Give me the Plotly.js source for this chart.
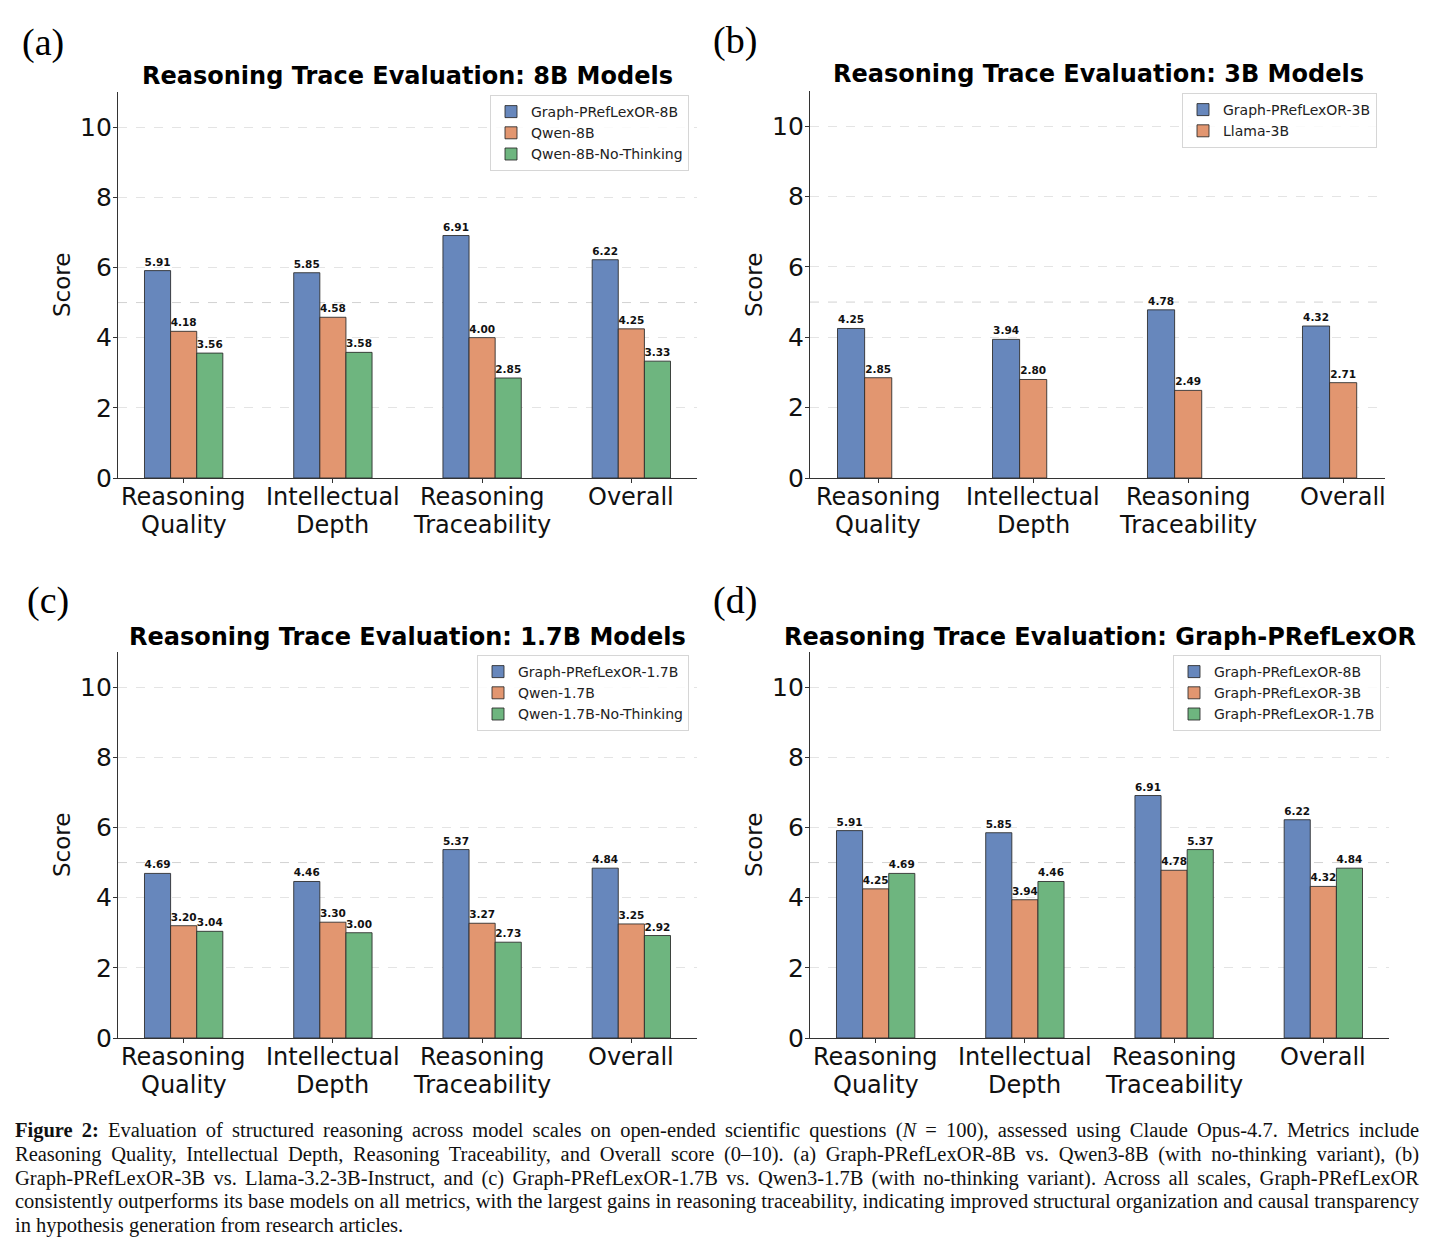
<!DOCTYPE html>
<html><head><meta charset="utf-8">
<script src="https://cdn.plot.ly/plotly-3.0.1.min.js"></script>
<style>
body{margin:0;background:#fff;}
#wrap{position:relative;width:1436px;height:1254px;overflow:hidden;}
#chart{position:absolute;left:0;top:0;width:1436px;height:1254px;}
#caption{position:absolute;left:15px;top:1119px;width:1404px;font-family:"Liberation Serif","Times New Roman",serif;font-size:20.6px;line-height:23.75px;color:#111;}
#caption div{text-align:justify;text-align-last:justify;}
#caption div.last{text-align-last:left;}
</style></head>
<body>
<div id="wrap">
<div id="chart"></div>
<div id="caption">
<div><b>Figure 2:</b> Evaluation of structured reasoning across model scales on open-ended scientific questions (<i>N</i> = 100), assessed using Claude Opus-4.7. Metrics include</div>
<div>Reasoning Quality, Intellectual Depth, Reasoning Traceability, and Overall score (0–10). (a) Graph-PRefLexOR-8B vs. Qwen3-8B (with no-thinking variant), (b)</div>
<div>Graph-PRefLexOR-3B vs. Llama-3.2-3B-Instruct, and (c) Graph-PRefLexOR-1.7B vs. Qwen3-1.7B (with no-thinking variant). Across all scales, Graph-PRefLexOR</div>
<div>consistently outperforms its base models on all metrics, with the largest gains in reasoning traceability, indicating improved structural organization and causal transparency</div>
<div class="last">in hypothesis generation from research articles.</div>
</div>
</div>
<script>
// ---------------- DATA ----------------
const categories = ['Reasoning<br>Quality', 'Intellectual<br>Depth', 'Reasoning<br>Traceability', 'Overall'];

const titleA = 'Reasoning Trace Evaluation: 8B Models';
const namesA = ['Graph-PRefLexOR-8B', 'Qwen-8B', 'Qwen-8B-No-Thinking'];
const graph8B   = [5.91, 5.85, 6.91, 6.22];
const qwen8B    = [4.18, 4.58, 4.00, 4.25];
const qwen8BNT  = [3.56, 3.58, 2.85, 3.33];

const titleB = 'Reasoning Trace Evaluation: 3B Models';
const namesB = ['Graph-PRefLexOR-3B', 'Llama-3B'];
const graph3B   = [4.25, 3.94, 4.78, 4.32];
const llama3B   = [2.85, 2.80, 2.49, 2.71];

const titleC = 'Reasoning Trace Evaluation: 1.7B Models';
const namesC = ['Graph-PRefLexOR-1.7B', 'Qwen-1.7B', 'Qwen-1.7B-No-Thinking'];
const graph17B  = [4.69, 4.46, 5.37, 4.84];
const qwen17B   = [3.20, 3.30, 3.27, 3.25];
const qwen17BNT = [3.04, 3.00, 2.73, 2.92];

const titleD = 'Reasoning Trace Evaluation: Graph-PRefLexOR';
const namesD = ['Graph-PRefLexOR-8B', 'Graph-PRefLexOR-3B', 'Graph-PRefLexOR-1.7B'];
const graphD8B  = [5.91, 5.85, 6.91, 6.22];
const graphD3B  = [4.25, 3.94, 4.78, 4.32];
const graphD17B = [4.69, 4.46, 5.37, 4.84];

const panelLabels = ['(a)', '(b)', '(c)', '(d)'];
const yTicks = [0, 2, 4, 6, 8, 10];

// ---------------- STYLE ----------------
const COLORS = ['#6787BC', '#E29670', '#6EB57F'];
const W = 0.175;
const FONT = 'DejaVu Sans';
const FW = 1436, FH = 1254;
const px = v => v / FW;
const py = v => (FH - v) / FH;

function makeTraces(names, series, axisIdx, legendKey) {
  return series.map((vals, k) => ({
    type: 'bar',
    name: names[k],
    x: categories,
    y: vals,
    offset: -1.5 * W + k * W,
    width: W,
    xaxis: axisIdx === 1 ? 'x' : 'x' + axisIdx,
    yaxis: axisIdx === 1 ? 'y' : 'y' + axisIdx,
    legend: legendKey,
    marker: {color: COLORS[k], line: {color: 'rgba(40,40,40,0.85)', width: 1}},
    texttemplate: '<b>%{y:.2f}</b>',
    textposition: 'outside',
    constraintext: 'none',
    cliponaxis: false,
    textfont: {family: FONT, size: 10.5, color: '#111'},
    hoverinfo: 'skip'
  }));
}

const data = [].concat(
  makeTraces(namesA, [graph8B, qwen8B, qwen8BNT], 1, 'legend'),
  makeTraces(namesB, [graph3B, llama3B], 2, 'legend2'),
  makeTraces(namesC, [graph17B, qwen17B, qwen17BNT], 3, 'legend3'),
  makeTraces(namesD, [graphD8B, graphD3B, graphD17B], 4, 'legend4')
);

// panel geometry in pixels
const panels = [
  {l: 118, r: 697, t: 92, b: 478, xr: [-0.44, 3.44]},
  {l: 810, r: 1385, t: 91, b: 478, xr: [-0.44, 3.27]},
  {l: 118, r: 697, t: 652, b: 1038, xr: [-0.44, 3.44]},
  {l: 810, r: 1389, t: 652, b: 1038, xr: [-0.44, 3.44]}
];

const layout = {
  width: FW, height: FH,
  margin: {l: 0, r: 0, t: 0, b: 0},
  paper_bgcolor: 'white', plot_bgcolor: 'white',
  font: {family: FONT, color: '#111'},
  barmode: 'overlay',
  showlegend: true,
  annotations: [], shapes: []
};

panels.forEach((p, i) => {
  const n = i + 1;
  const xk = n === 1 ? 'xaxis' : 'xaxis' + n;
  const yk = n === 1 ? 'yaxis' : 'yaxis' + n;
  const xr = n === 1 ? 'x' : 'x' + n;
  layout[xk] = {
    domain: [px(p.l), px(p.r)], anchor: n === 1 ? 'y' : 'y' + n,
    type: 'category', range: p.xr, fixedrange: true,
    showline: true, linecolor: '#333', linewidth: 1.2,
    ticks: 'outside', ticklen: 4, tickwidth: 1, tickcolor: '#333',
    showgrid: false, zeroline: false, showticklabels: false
  };
  layout[yk] = {
    domain: [py(p.b), py(p.t)], anchor: xr,
    range: [0, 11], tickvals: yTicks, fixedrange: true,
    showline: true, linecolor: '#333', linewidth: 1.2,
    ticks: 'outside', ticklen: 4, tickwidth: 1, tickcolor: '#333',
    ticklabelstandoff: -4,
    showgrid: true, gridcolor: '#e4e4e4', griddash: 'dash', gridwidth: 1,
    zeroline: false,
    tickfont: {family: FONT, size: 25, color: '#111'}
  };
  // reference line at 5
  layout.shapes.push({
    type: 'line', xref: xr + ' domain', yref: n === 1 ? 'y' : 'y' + n,
    x0: 0, x1: 1, y0: 5, y1: 5, layer: 'below',
    line: {color: '#d2d2d2', width: 1, dash: 'dash'}
  });
  // category tick labels (two lines, matplotlib-like spacing)
  categories.forEach(c => {
    c.split('<br>').forEach((line, j) => {
      layout.annotations.push({
        text: line, xref: xr, yref: 'paper',
        x: c, y: py(p.b + 19 + j * 28), xanchor: 'center', yanchor: 'middle',
        showarrow: false, font: {family: FONT, size: 24, color: '#111'}
      });
    });
  });
});

// titles
const titles = [titleA, titleB, titleC, titleD];
const titlePos = [[407.5, 76], [1098, 74], [407.5, 637], [1100, 637]];
titles.forEach((t, i) => {
  layout.annotations.push({
    text: '<b>' + t + '</b>', xref: 'paper', yref: 'paper',
    x: px(titlePos[i][0]), y: py(titlePos[i][1]), xanchor: 'center', yanchor: 'middle',
    showarrow: false, font: {family: FONT, size: 24, color: '#000'}
  });
});

// y-axis titles
const scorePos = [[62, 285], [754, 285], [62, 845], [754, 845]];
scorePos.forEach(s => {
  layout.annotations.push({
    text: 'Score', textangle: -90, xref: 'paper', yref: 'paper',
    x: px(s[0]), y: py(s[1]), xanchor: 'center', yanchor: 'middle',
    showarrow: false, font: {family: FONT, size: 23, color: '#111'}
  });
});

// panel labels
const labelPos = [[20, 43], [711, 40], [25, 600], [711, 600]];
panelLabels.forEach((t, i) => {
  layout.annotations.push({
    text: t, xref: 'paper', yref: 'paper',
    x: px(labelPos[i][0]), y: py(labelPos[i][1]), xanchor: 'left', yanchor: 'middle',
    showarrow: false, font: {family: 'Liberation Serif', size: 38, color: '#000'}
  });
});

// legends
const legendPos = [[689, 95], [1377, 93], [689, 655], [1381, 655]];
['legend', 'legend2', 'legend3', 'legend4'].forEach((k, i) => {
  layout[k] = {
    x: px(legendPos[i][0]), y: py(legendPos[i][1]), xanchor: 'right', yanchor: 'top',
    xref: 'paper', yref: 'paper',
    bgcolor: 'rgba(255,255,255,0.85)', bordercolor: '#d6d6d6', borderwidth: 1,
    font: {family: FONT, size: 14, color: '#222'},
    traceorder: 'normal', itemclick: false, itemdoubleclick: false
  };
});

Plotly.newPlot('chart', data, layout, {displayModeBar: false, staticPlot: true});

// one common caption font size so that every line stays on a single line
(function fitCaption() {
  const cap = document.getElementById('caption');
  const lines = cap.querySelectorAll('div');
  let fs = 20.6;
  const tooTall = () => Array.from(lines).some(d => d.getBoundingClientRect().height > 30);
  while (tooTall() && fs > 14) { fs -= 0.1; cap.style.fontSize = fs + 'px'; }
})();
</script>
</body></html>
